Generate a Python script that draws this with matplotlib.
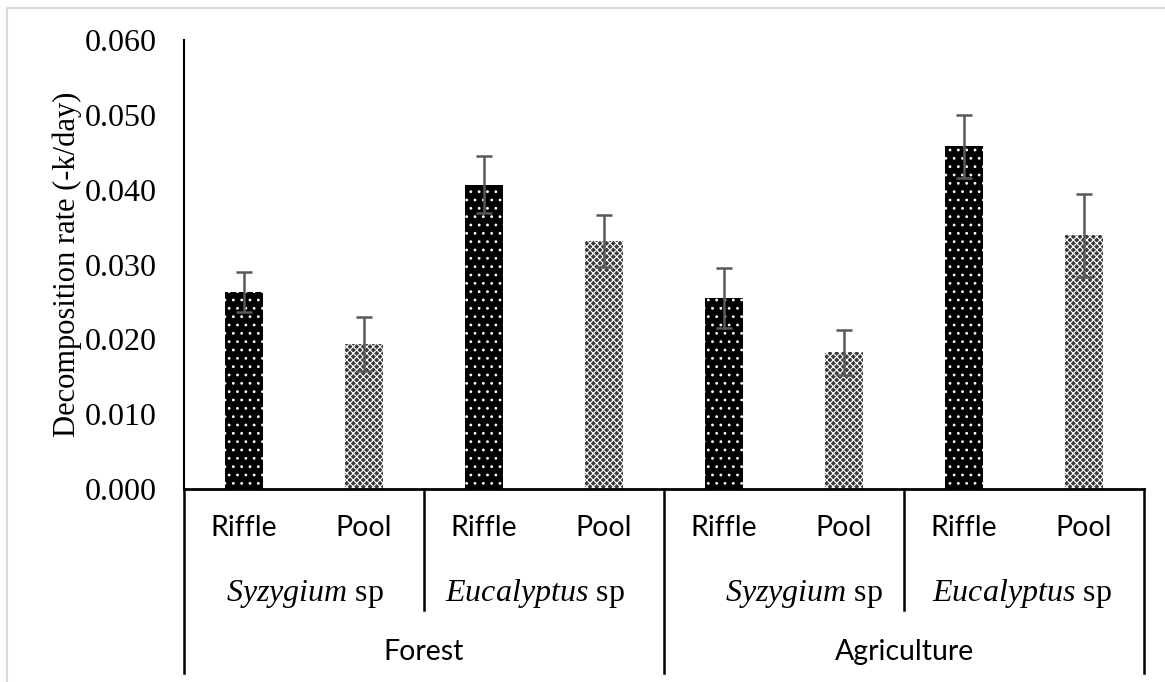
import numpy as np
import matplotlib
matplotlib.use("Agg")
import matplotlib.pyplot as plt
from matplotlib.patches import Rectangle

plt.rcParams['mathtext.fontset'] = 'custom'
plt.rcParams['mathtext.it'] = 'Liberation Serif:italic'
plt.rcParams['mathtext.rm'] = 'Liberation Serif'
plt.rcParams['hatch.linewidth'] = 0.8

# data
flow = ['Riffle', 'Pool', 'Riffle', 'Pool', 'Riffle', 'Pool', 'Riffle', 'Pool']
species = [r'$\mathit{Syzygium}$ sp', r'$\mathit{Eucalyptus}$ sp',
           r'$\mathit{Syzygium}$ sp', r'$\mathit{Eucalyptus}$ sp']
landuse = ['Forest', 'Agriculture']
rate = [0.0263, 0.0194, 0.0407, 0.0332, 0.0255, 0.0183, 0.0458, 0.0339]
err = [0.0027, 0.0036, 0.0038, 0.0035, 0.0040, 0.0030, 0.0042, 0.0055]
yticks = [0.000, 0.010, 0.020, 0.030, 0.040, 0.050, 0.060]

fig = plt.figure(figsize=(11.65, 6.82), dpi=100)
ax = fig.add_axes([0.158, 0.283, 0.824, 0.658])

x = np.arange(len(rate))
for i in x:
    if flow[i] == 'Riffle':
        ax.bar(i, rate[i], width=0.32, color='black', edgecolor='white',
               hatch='..', linewidth=0)
    else:
        ax.bar(i, rate[i], width=0.32, color='#3a3a3a', edgecolor='white',
               hatch='xxxxx', linewidth=0)
ax.errorbar(x, rate, yerr=err, fmt='none', ecolor='#595959', elinewidth=1.8,
            capsize=6, capthick=1.8)

ax.set_xlim(-0.5, 7.5)
ax.set_ylim(0, 0.060)
ax.set_yticks(yticks)
ax.set_yticklabels(['%.3f' % v for v in yticks], fontfamily='Liberation Serif',
                   fontsize=23)
ax.tick_params(axis='y', length=0, pad=20)
ax.set_xticks([])
ax.spines['top'].set_visible(False)
ax.spines['right'].set_visible(False)
ax.spines['left'].set_linewidth(1.5)
ax.spines['bottom'].set_linewidth(2)
ax.set_ylabel('Decomposition rate (-k/day)', fontfamily='Liberation Serif',
              fontsize=22, labelpad=2)

# multi-level category labels below the axis
tr = ax.get_xaxis_transform()
def ypos(pix):
    return (489 - pix) / 449.0

for i in x:
    ax.text(i, ypos(528), flow[i], transform=tr, ha='center', va='center',
            fontfamily='Lato', fontsize=20.5)

sp_x = [0.51, 2.42, 4.67, 6.48]
for j, s in enumerate(species):
    ax.text(sp_x[j], ypos(594), s, transform=tr, ha='center', va='center',
            fontfamily='Liberation Serif', fontsize=23)

for k, s in enumerate(landuse):
    ax.text(1.5 + 4 * k, ypos(652), s, transform=tr, ha='center', va='center',
            fontfamily='Lato', fontsize=20.5)

for xv in [-0.5, 3.5, 7.5]:
    ax.plot([xv, xv], [0, ypos(673)], transform=tr, color='black', lw=1.8,
            clip_on=False)
for xv in [1.5, 5.5]:
    ax.plot([xv, xv], [0, ypos(610)], transform=tr, color='black', lw=1.8,
            clip_on=False)

# light frame around the chart
fig.patches.append(Rectangle((7 / 1165, -0.01), 1.1, 1 - 8 / 682 + 0.01,
                             transform=fig.transFigure, fill=False,
                             edgecolor='#d9d9d9', lw=1.5))

fig.savefig('out.png', dpi=100)
